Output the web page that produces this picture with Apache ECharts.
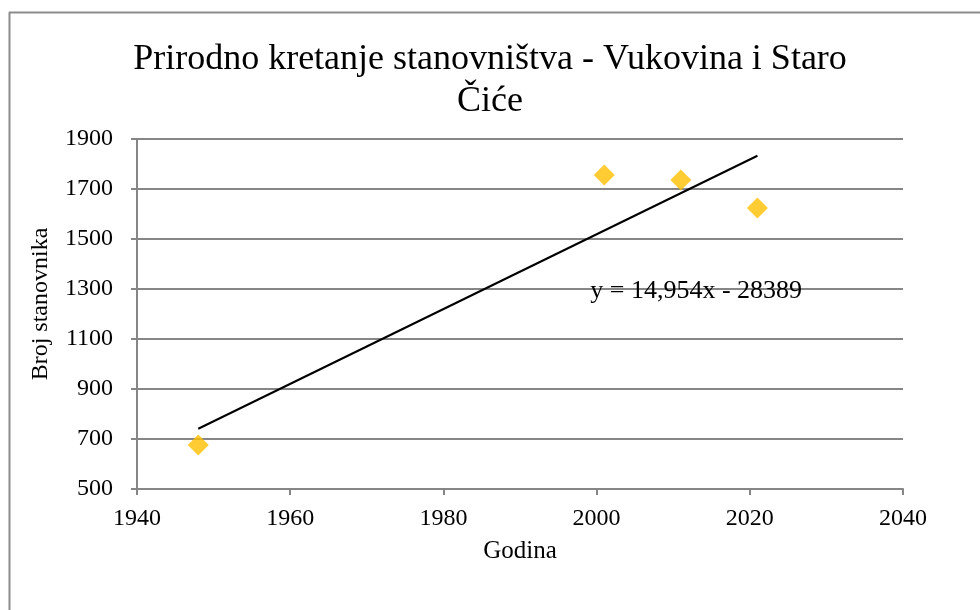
<!DOCTYPE html>
<html>
<head>
<meta charset="utf-8">
<script src="https://cdn.jsdelivr.net/npm/echarts@6/dist/echarts.min.js"></script>
<style>
  html, body { margin: 0; padding: 0; background: #fff; }
  #chart { width: 980px; height: 610px; }
</style>
</head>
<body>
<div id="chart"></div>
<script>
// podaci
const years = [1948, 2001, 2011, 2021]
const population = [676, 1756, 1736, 1624]
// linija trenda (krajnje tocke ocitane s grafa)
const trendYears = [1948, 2021]
const trendValues = [741, 1833]
const trendLabel = 'y = 14,954x - 28389'
const xTicks = [1940, 1960, 1980, 2000, 2020, 2040]
const yTicks = [500, 700, 900, 1100, 1300, 1500, 1700, 1900]

const font = 'Liberation Serif'
const gridColor = '#868686'

const chart = echarts.init(document.getElementById('chart'))

const options = {
  animation: false,
  title: {
    text: 'Prirodno kretanje stanovništva - Vukovina i Staro\nČiće',
    left: 'center',
    top: 34,
    textStyle: {
      fontFamily: font,
      fontWeight: 'normal',
      fontSize: 36,
      lineHeight: 42,
      color: '#000'
    }
  },
  graphic: [
    // okvir grafikona (gore i lijevo)
    { type: 'line', shape: { x1: 9, y1: 12.5, x2: 980, y2: 12.5 }, style: { stroke: '#8c8c8c', lineWidth: 2 } },
    { type: 'line', shape: { x1: 9.5, y1: 12, x2: 9.5, y2: 610 }, style: { stroke: '#8c8c8c', lineWidth: 2 } }
  ],
  grid: {
    left: 137,
    right: 77,
    top: 139,
    bottom: 121,
    containLabel: false
  },
  xAxis: {
    type: 'value',
    min: xTicks[0],
    max: xTicks[xTicks.length - 1],
    interval: 20,
    name: 'Godina',
    nameLocation: 'middle',
    nameGap: 50,
    nameTextStyle: { fontFamily: font, fontSize: 25, color: '#000' },
    axisLine: { lineStyle: { color: gridColor, width: 2 } },
    axisTick: { show: true, length: 6, lineStyle: { color: gridColor, width: 2 } },
    axisLabel: { fontFamily: font, fontSize: 24, color: '#000', margin: 18, formatter: (v) => String(v) },
    splitLine: { show: false }
  },
  yAxis: {
    type: 'value',
    min: yTicks[0],
    max: yTicks[yTicks.length - 1],
    interval: 200,
    name: 'Broj stanovnika',
    nameLocation: 'middle',
    nameGap: 84,
    nameTextStyle: { fontFamily: font, fontSize: 24, color: '#000', padding: [0, 0, 0, 20] },
    axisLine: { show: true, lineStyle: { color: gridColor, width: 2 } },
    axisTick: { show: true, length: 6, lineStyle: { color: gridColor, width: 2 } },
    axisLabel: { fontFamily: font, fontSize: 24, color: '#000', margin: 24, formatter: (v) => String(v) },
    splitLine: { show: true, lineStyle: { color: gridColor, width: 2 } }
  },
  series: [
    {
      type: 'line',
      data: trendYears.map((y, i) => [y, trendValues[i]]),
      symbol: 'none',
      lineStyle: { color: '#000', width: 2 },
      z: 3,
      markPoint: {
        symbol: 'rect',
        symbolSize: 1,
        itemStyle: { color: 'rgba(0,0,0,0)' },
        label: {
          show: true,
          position: 'inside',
          formatter: trendLabel,
          fontFamily: font,
          fontSize: 26,
          color: '#000'
        },
        data: [{ coord: [2013, 1290] }]
      }
    },
    {
      type: 'scatter',
      data: years.map((y, i) => [y, population[i]]),
      symbol: 'diamond',
      symbolSize: [21, 21],
      itemStyle: { color: '#FFC000' },
      z: 4
    }
  ]
}

chart.setOption(options)
</script>
</body>
</html>
